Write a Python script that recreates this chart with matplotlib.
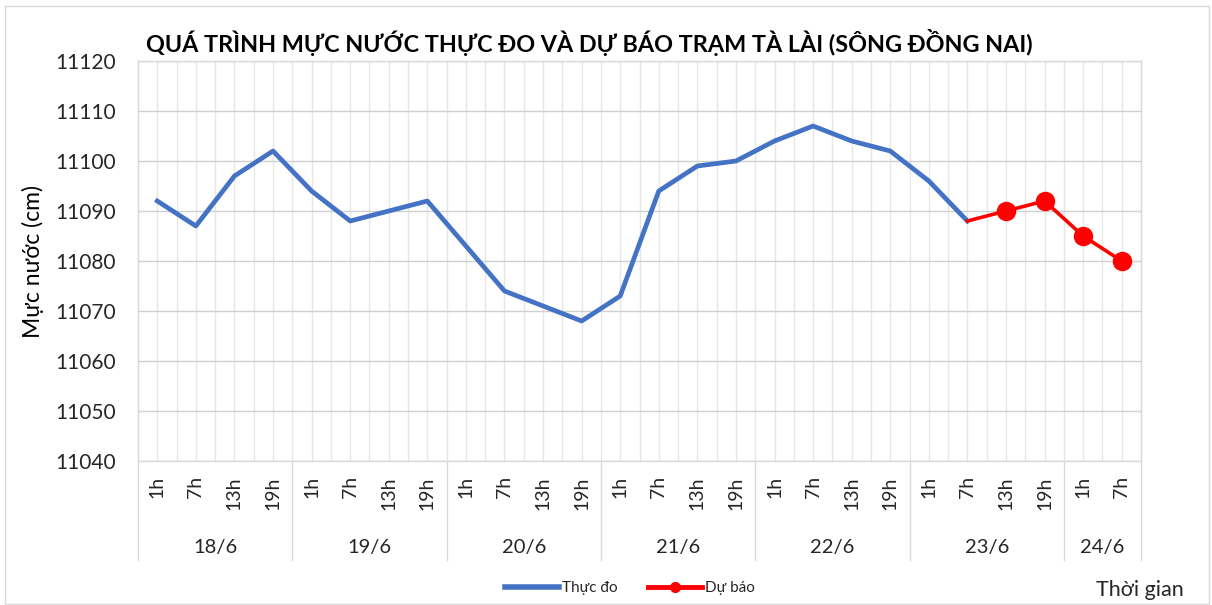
import matplotlib
matplotlib.use("Agg")
import matplotlib.pyplot as plt
import numpy as np
from matplotlib.lines import Line2D
from matplotlib.patches import Rectangle
import matplotlib.transforms as mtransforms

plt.rcParams['font.family'] = ['Lato', 'DejaVu Sans']

dates = ["18/6", "19/6", "20/6", "21/6", "22/6", "23/6", "24/6"]
hours_per_date = [["1h", "7h", "13h", "19h"]] * 6 + [["1h", "7h"]]
hour_labels = [h for hs in hours_per_date for h in hs]

observed = [11092, 11087, 11097, 11102,
            11094, 11088, 11090, 11092,
            11083, 11074, 11071, 11068,
            11073, 11094, 11099, 11100,
            11104, 11107, 11104, 11102,
            11096, 11088]
forecast = [11088, 11090, 11092, 11085, 11080]

n = len(hour_labels)
x = np.arange(n)
obs_arr = np.array(observed + [np.nan] * (n - len(observed)), dtype=float)
fc_start = n - len(forecast)
fc_arr = np.array([np.nan] * fc_start + forecast, dtype=float)

fig = plt.figure(figsize=(12.12, 6.05), dpi=100)
ax = fig.add_axes([138/1212, 1-461/605, (1141-138)/1212, 400/605])

blue = '#4472C4'
red = '#FF0000'

ax.plot(x, obs_arr, color=blue, lw=3.4, solid_joinstyle='round', zorder=3)
ax.plot(x, fc_arr, color=red, lw=2.6, marker='o', markersize=13,
        markevery=list(range(fc_start + 1, n)), zorder=4)

ax.set_xlim(-0.5, n - 0.5)
ax.set_ylim(11040, 11120)
ax.set_yticks(np.arange(11040, 11121, 10))
ax.tick_params(axis='y', length=0, pad=16, labelsize=15, labelcolor='#262626')

ax.set_xticks(x)
ax.set_xticklabels(hour_labels, rotation=90, fontsize=14, color='#262626', va='top')
ax.set_xticks(np.arange(-0.5, n, 1.0), minor=True)
ax.tick_params(axis='x', which='both', length=0, pad=11)

ax.grid(axis='y', color='#D0D0D0', lw=1.0)
ax.grid(axis='x', which='major', color='#E6E6E6', lw=1.0)
ax.grid(axis='x', which='minor', color='#E6E6E6', lw=1.0)
ax.set_axisbelow(True)
for s in ax.spines.values():
    s.set_color('#D9D9D9')
    s.set_linewidth(1.0)

# group separators and date labels
trans = mtransforms.blended_transform_factory(ax.transData, ax.transAxes)
pos = -0.5
bounds = [pos]
for d, hs in zip(dates, hours_per_date):
    start = pos
    pos += len(hs)
    bounds.append(pos)
    ax.text((start + pos) / 2, -0.2175, d, transform=trans, ha='center', va='center',
            fontsize=14.5, color='#262626')
for b in bounds:
    ax.add_line(Line2D([b, b], [0, -0.2475], transform=trans, color='#D9D9D9',
                       lw=1.0, clip_on=False))

ax.set_ylabel("Mực nước (cm)", fontsize=16.5, color='#000000')
ax.yaxis.set_label_coords(-(138-44)/(1141-138), 0.5)

fig.text(589/1212, 1-42/605, "QUÁ TRÌNH MỰC NƯỚC THỰC ĐO VÀ DỰ BÁO TRẠM TÀ LÀI (SÔNG ĐỒNG NAI)",
         ha='center', va='center', fontsize=16.8, fontweight='bold', color='#000000')

fig.text(1140/1212, 1-590/605, "Thời gian", ha='center', va='center', fontsize=15.5, color='#262626')

handles = [Line2D([], [], color=blue, lw=4),
           Line2D([], [], color=red, lw=3.5, marker='o', markersize=7)]
fig.legend(handles, ["Thực đo", "Dự báo"], loc='center', bbox_to_anchor=(630/1212, 1-588/605),
           ncol=2, frameon=False, fontsize=11, handlelength=3.5, handletextpad=0.2,
           columnspacing=2.0, labelcolor='#262626')

fig.add_artist(Rectangle((5/1212, 1/605), 1204/1212, 598/605, transform=fig.transFigure,
                         fill=False, edgecolor='#D9D9D9', lw=1.0))

fig.savefig("out.png", dpi=100)
